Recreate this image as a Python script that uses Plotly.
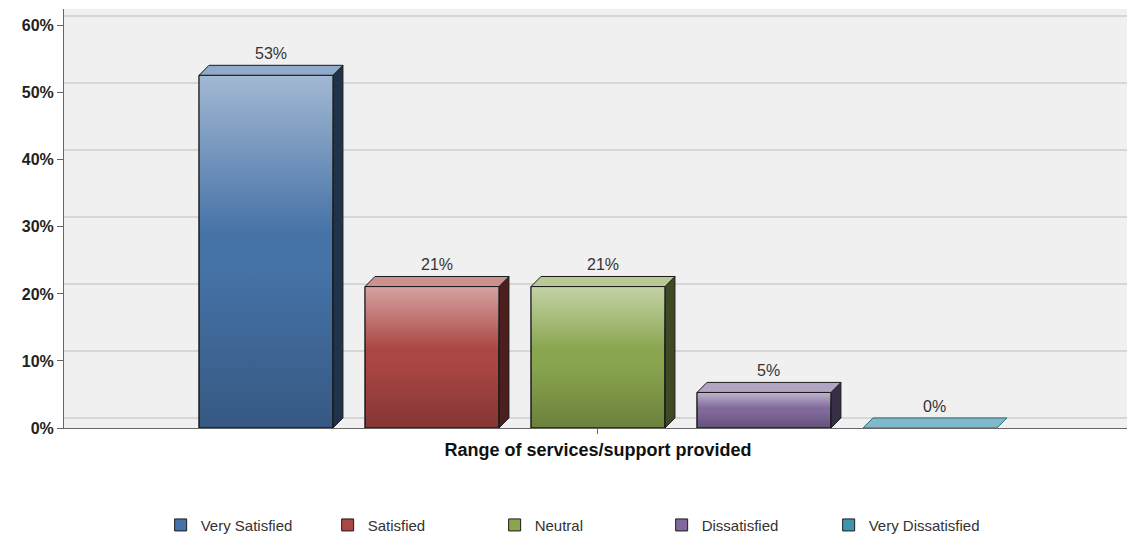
import plotly.graph_objects as go

# ---- data ----
category = "Range of services/support provided"
series_names = ["Very Satisfied", "Satisfied", "Neutral", "Dissatisfied", "Very Dissatisfied"]
values = [52.6, 21.1, 21.1, 5.3, 0.0]
colors = ["#4572A7", "#AA4643", "#89A54E", "#80699B", "#3D96AE"]
y_ticks = [0, 10, 20, 30, 40, 50, 60]
y_tick_labels = ["0%", "10%", "20%", "30%", "40%", "50%", "60%"]

# ---- style / geometry ----
FONT = "Liberation Sans, Arial, sans-serif"
BAR_W = 0.807          # bar width (slot = 1)
DX = 0.06              # 3D depth in x units
DY = 1.5               # 3D depth in y units (%)
Y_MAX = 62.5
X_RANGE = [-1.217, 5.187]
OUTLINE = "#1c1c1c"


def mix(hex_color, target, t):
    h = hex_color.lstrip("#")
    r, g, b = (int(h[i:i + 2], 16) for i in (0, 2, 4))
    tr, tg, tb = target
    return "rgb({},{},{})".format(int(r + (tr - r) * t), int(g + (tg - g) * t), int(b + (tb - b) * t))


fig = go.Figure()

# front faces as real bars (for legend + data)
for i, (name, v, c) in enumerate(zip(series_names, values, colors)):
    fig.add_trace(go.Bar(
        x=[i], y=[v], width=[BAR_W], name=name,
        marker=dict(color=c, line=dict(color=OUTLINE, width=1)),
        hoverinfo="skip",
    ))

# 3D side / top faces and gradient sheen, derived from the values
for i, (v, c) in enumerate(zip(values, colors)):
    xl, xr = i - BAR_W / 2, i + BAR_W / 2
    if v > 0:
        fig.add_trace(go.Scatter(
            x=[xr, xr + DX, xr + DX, xr, xr], y=[0, DY, v + DY, v, 0],
            fill="toself", fillcolor=mix(c, (0, 0, 0), 0.55), mode="lines",
            line=dict(color=OUTLINE, width=1), showlegend=False, hoverinfo="skip"))
    fig.add_trace(go.Scatter(
        x=[xl, xl + DX, xr + DX, xr, xl], y=[v, v + DY, v + DY, v, v],
        fill="toself", fillcolor=mix(c, (255, 255, 255), 0.4 if v > 0 else 0.35), mode="lines",
        line=dict(color=OUTLINE if v > 0 else mix(c, (0, 0, 0), 0.3), width=1),
        showlegend=False, hoverinfo="skip"))
    if v > 0:
        fig.add_trace(go.Scatter(
            x=[xl, xr, xr, xl, xl], y=[0, 0, v, v, 0],
            fill="toself", mode="lines",
            fillgradient=dict(type="vertical", colorscale=[
                [0.0, "rgba(0,0,0,0.22)"],
                [0.45, "rgba(0,0,0,0.0)"],
                [0.55, "rgba(255,255,255,0.0)"],
                [1.0, "rgba(255,255,255,0.5)"],
            ]),
            line=dict(color=OUTLINE, width=1), showlegend=False, hoverinfo="skip"))

# empty trace so the shifted grid axis exists
fig.add_trace(go.Scatter(x=[], y=[], yaxis="y2", showlegend=False, hoverinfo="skip"))

# value labels
for i, v in enumerate(values):
    fig.add_annotation(
        x=i + DX / 2, y=v + DY, text=f"{round(v)}%", showarrow=False,
        yanchor="bottom", yshift=1, font=dict(family=FONT, size=16, color="#333333"))

fig.update_layout(
    width=1127, height=537,
    margin=dict(l=64, r=0, t=9, b=109, autoexpand=False),
    paper_bgcolor="white", plot_bgcolor="#f0f0f0",
    barmode="overlay",
    showlegend=True,
    legend=dict(
        orientation="h", x=0.513, xref="container", xanchor="center",
        y=0.022, yref="container", yanchor="middle",
        font=dict(family=FONT, size=15, color="#333333"),
        entrywidth=122, itemwidth=30, traceorder="normal",
    ),
    xaxis=dict(
        range=X_RANGE, tickvals=[2], ticktext=[category], automargin=False,
        tickfont=dict(family=FONT, size=18, color="#111111", weight="bold"),
        showgrid=False, zeroline=False, showline=True, linecolor="#666666", linewidth=1,
        ticks="outside", ticklen=5, tickcolor="#666666",
    ),
    yaxis=dict(
        range=[0, Y_MAX], tickvals=y_ticks, ticktext=y_tick_labels, automargin=False,
        tickfont=dict(family=FONT, size=16, color="#222222", weight="bold"),
        showgrid=False, zeroline=False, showline=True, linecolor="#666666", linewidth=1,
        ticks="outside", ticklen=6, tickcolor="#666666",
    ),
    yaxis2=dict(
        overlaying="y", range=[-DY, Y_MAX - DY], tickvals=y_ticks, automargin=False,
        showticklabels=False, showgrid=True, gridcolor="#d6d6d6", gridwidth=1.5,
        zeroline=False, showline=False, ticks="",
    ),
)

fig.write_html("out.html", config={"displayModeBar": False},
               post_script="document.body.style.margin='0';")
